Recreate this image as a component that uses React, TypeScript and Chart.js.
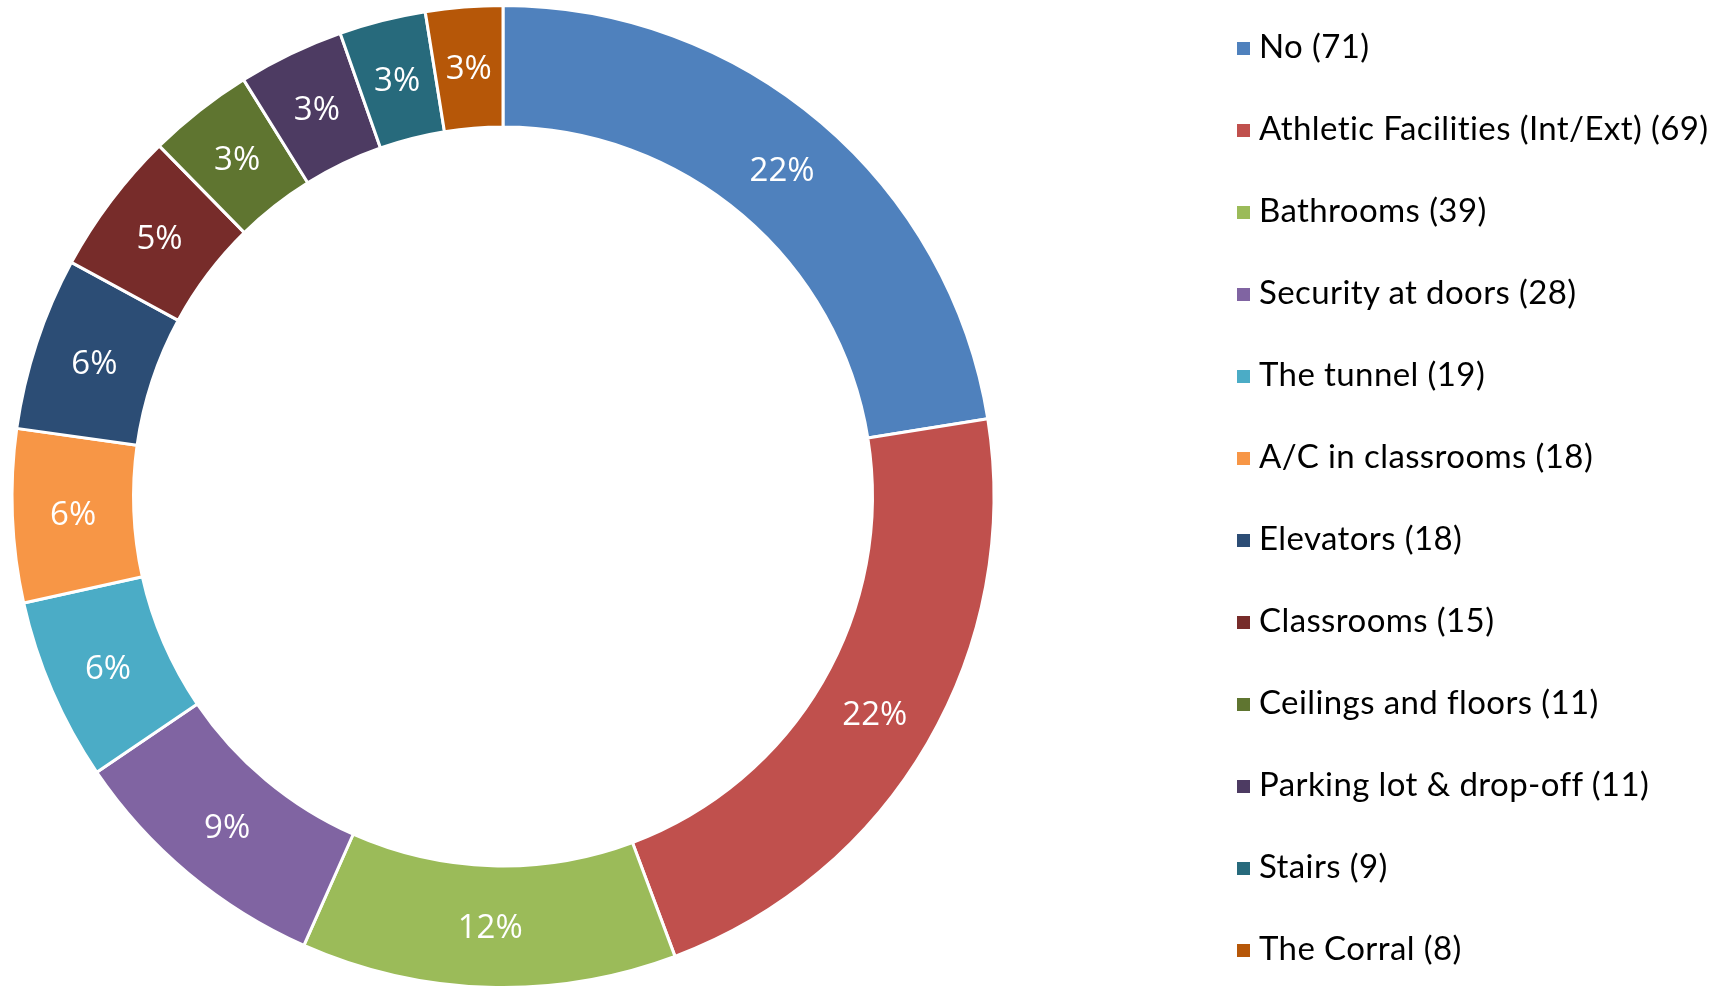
import React, { useEffect, useRef } from "react";
import { Chart, registerables } from "chart.js";

Chart.register(...registerables);

const categories = [
  "No",
  "Athletic Facilities (Int/Ext)",
  "Bathrooms",
  "Security at doors",
  "The tunnel",
  "A/C in classrooms",
  "Elevators",
  "Classrooms",
  "Ceilings and floors",
  "Parking lot & drop-off",
  "Stairs",
  "The Corral",
];
const counts = [71, 69, 39, 28, 19, 18, 18, 15, 11, 11, 9, 8];
const colors = [
  "#4F81BD",
  "#C0504D",
  "#9BBB59",
  "#8064A2",
  "#4BACC6",
  "#F79646",
  "#2C4D75",
  "#772C2A",
  "#5F7530",
  "#4D3B62",
  "#276A7C",
  "#B65708",
];

const legendLabels = categories.map((c, i) => `${c} (${counts[i]})`);

const LABEL_SIZE = 33;

const sliceLabelPlugin = {
  id: "sliceLabels",
  afterDatasetsDraw(chart: any) {
    const ctx = chart.ctx;
    const meta = chart.getDatasetMeta(0);
    const data = chart.data.datasets[0].data as number[];
    const total = data.reduce((a, b) => a + b, 0);
    ctx.save();
    ctx.font = `${LABEL_SIZE}px "Open Sans"`;
    ctx.fillStyle = "#ffffff";
    ctx.textAlign = "center";
    ctx.textBaseline = "alphabetic";
    meta.data.forEach((arc: any, i: number) => {
      const p = arc.getProps(
        ["x", "y", "startAngle", "endAngle", "innerRadius", "outerRadius"],
        true
      );
      const a = (p.startAngle + p.endAngle) / 2;
      const r = (p.innerRadius + p.outerRadius) / 2;
      const pct = Math.round((data[i] / total) * 100) + "%";
      const cx = p.x + Math.cos(a) * r;
      const cy = p.y + Math.sin(a) * r;
      ctx.fillText(pct, cx, cy + 0.357 * LABEL_SIZE);
    });
    ctx.restore();
  },
};

export default function App() {
  const canvasRef = useRef<HTMLCanvasElement | null>(null);

  useEffect(() => {
    document.body.style.margin = "0";
    const canvas = canvasRef.current;
    if (!canvas) return;
    const chart = new Chart(canvas, {
      type: "doughnut",
      data: {
        labels: legendLabels,
        datasets: [
          {
            data: counts,
            backgroundColor: colors,
            borderColor: "#ffffff",
            borderWidth: 3,
          },
        ],
      },
      options: {
        responsive: false,
        animation: false,
        cutout: "75.25%",
        layout: {
          padding: { left: 10.5, top: 4, right: 737.5, bottom: 0 },
        },
        plugins: {
          legend: { display: false },
          tooltip: { enabled: false },
        },
      },
      plugins: [sliceLabelPlugin],
    });
    return () => chart.destroy();
  }, []);

  return (
    <div
      style={{
        position: "fixed",
        left: 0,
        top: 0,
        width: 1733,
        height: 989,
        background: "#ffffff",
        overflow: "hidden",
      }}
    >
      <canvas
        ref={canvasRef}
        width={1733}
        height={989}
        style={{ position: "absolute", left: 0, top: 0, width: 1733, height: 989 }}
      />
      {legendLabels.map((label, i) => (
        <React.Fragment key={label}>
          <div
            style={{
              position: "absolute",
              left: 1237,
              top: 41.5 + 82 * i,
              width: 13,
              height: 13,
              background: colors[i],
            }}
          />
          <div
            style={{
              position: "absolute",
              left: 1259,
              top: 24.6 + 82 * i,
              height: 40,
              lineHeight: "40px",
              fontFamily: "Lato",
              fontSize: 33,
              letterSpacing: "0.4px",
              color: "#000000",
              whiteSpace: "nowrap",
            }}
          >
            {label}
          </div>
        </React.Fragment>
      ))}
    </div>
  );
}
